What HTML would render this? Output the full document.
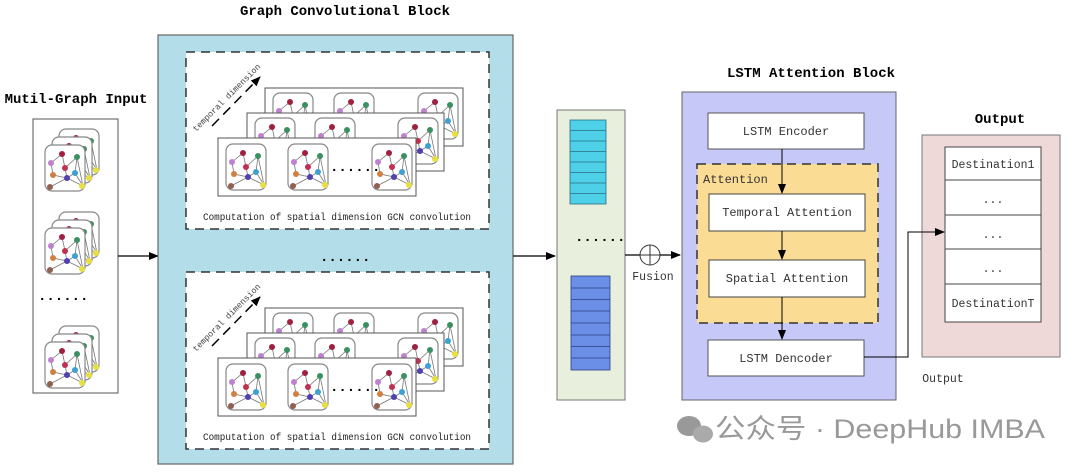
<!DOCTYPE html>
<html><head><meta charset="utf-8"><style>
body{margin:0;background:#fff;}
svg text{font-family:"Liberation Mono",monospace;}
</style></head><body>
<svg width="1080" height="469" viewBox="0 0 1080 469" xmlns="http://www.w3.org/2000/svg">
<defs>
<marker id="ar" markerWidth="10" markerHeight="8" refX="9" refY="4" orient="auto" markerUnits="userSpaceOnUse">
<path d="M0,0 L10,4 L0,8 z" fill="#000"/></marker>
<g id="gi">
<rect x="0" y="0" width="40" height="46" rx="7" fill="#fff" stroke="#888" stroke-width="1.2"/>
<g stroke="#777" stroke-width="0.8" fill="none">
<path d="M6,18 L17,9 L20,23 L32,12 L38,41 L22,33 L8,30 L6,18 M20,23 L22,33 L30,28 L38,41 M32,12 L30,28 M5,42 L22,33 M17,9 L20,23"/>
</g>
<circle cx="6" cy="18" r="3" fill="#c080d0"/>
<circle cx="17" cy="9" r="3" fill="#a02040"/>
<circle cx="20" cy="23" r="3" fill="#c03050"/>
<circle cx="32" cy="12" r="3" fill="#3a9060"/>
<circle cx="8" cy="30" r="3" fill="#d08040"/>
<circle cx="22" cy="33" r="3" fill="#5040b0"/>
<circle cx="30" cy="28" r="3" fill="#40a0d0"/>
<circle cx="5" cy="42" r="3" fill="#906050"/>
<circle cx="37" cy="41" r="3" fill="#e8e040"/>
</g>
<g id="stack">
<use href="#gi" x="14" y="-16"/>
<use href="#gi" x="7" y="-8"/>
<use href="#gi" x="0" y="0"/>
</g>
<g id="gcn">
<rect x="186" y="52" width="303" height="177" fill="#fff" stroke="#333" stroke-width="1.5" stroke-dasharray="9,6"/>
<rect x="265" y="88" width="198" height="58" fill="#fff" stroke="#555"/>
<use href="#gi" x="273" y="93"/><use href="#gi" x="334" y="93"/><use href="#gi" x="418" y="93"/>
<rect x="247" y="113" width="197" height="58" fill="#fff" stroke="#555"/>
<use href="#gi" x="255" y="118"/><use href="#gi" x="315" y="118"/><use href="#gi" x="398" y="118"/>
<rect x="218" y="138" width="198" height="58" fill="#fff" stroke="#555"/>
<use href="#gi" x="226" y="144"/><use href="#gi" x="288" y="144"/><use href="#gi" x="372" y="144"/>
<text x="330" y="171" font-size="14" font-weight="bold">......</text>
<line x1="212" y1="126" x2="260" y2="77" stroke="#000" stroke-width="1.5" stroke-dasharray="10,6" marker-end="url(#ar)"/>
<text x="0" y="0" font-size="8.5" fill="#444" transform="translate(196,132) rotate(-45)">temporal dimension</text>
<text x="337" y="220" font-size="10" text-anchor="middle" fill="#222" textLength="268" lengthAdjust="spacingAndGlyphs">Computation of spatial dimension GCN convolution</text>
</g>
</defs>

<text x="76" y="103" font-size="14" font-weight="bold" text-anchor="middle">Mutil-Graph Input</text>
<rect x="33" y="119" width="85" height="274" fill="#fff" stroke="#555"/>
<use href="#stack" x="45" y="145"/>
<use href="#stack" x="45" y="228"/>
<text x="38" y="300" font-size="14" font-weight="bold">......</text>
<use href="#stack" x="45" y="342"/>
<line x1="118" y1="256" x2="158" y2="256" stroke="#000" stroke-width="1.2" marker-end="url(#ar)"/>

<text x="345" y="15" font-size="14" font-weight="bold" text-anchor="middle">Graph Convolutional Block</text>
<rect x="158" y="35" width="355" height="429" fill="#b3dde8" stroke="#666" stroke-width="1.2"/>
<use href="#gcn"/>
<use href="#gcn" y="220"/>
<text x="320" y="261" font-size="14" font-weight="bold">......</text>
<line x1="513" y1="256" x2="555" y2="256" stroke="#000" stroke-width="1.2" marker-end="url(#ar)"/>

<rect x="557" y="110" width="68" height="290" fill="#e8efdc" stroke="#777"/>
<g fill="#4dd0e8" stroke="#2a6f80" stroke-width="0.8">
<rect x="570" y="120" width="36" height="84"/>
<line x1="570" y1="130.5" x2="606" y2="130.5"/><line x1="570" y1="141" x2="606" y2="141"/><line x1="570" y1="151.5" x2="606" y2="151.5"/><line x1="570" y1="162" x2="606" y2="162"/><line x1="570" y1="172.5" x2="606" y2="172.5"/><line x1="570" y1="183" x2="606" y2="183"/><line x1="570" y1="193.5" x2="606" y2="193.5"/>
</g>
<g fill="#6b8fe6" stroke="#2a3f80" stroke-width="0.8">
<rect x="571" y="276" width="39" height="94"/>
<line x1="571" y1="288" x2="610" y2="288"/><line x1="571" y1="299.5" x2="610" y2="299.5"/><line x1="571" y1="311" x2="610" y2="311"/><line x1="571" y1="323" x2="610" y2="323"/><line x1="571" y1="335" x2="610" y2="335"/><line x1="571" y1="346.5" x2="610" y2="346.5"/><line x1="571" y1="358" x2="610" y2="358"/>
</g>
<text x="575" y="241" font-size="14" font-weight="bold">......</text>
<line x1="625" y1="255" x2="680" y2="255" stroke="#000" stroke-width="1.2" marker-end="url(#ar)"/>
<circle cx="650" cy="255" r="10" fill="#fff" stroke="#333"/>
<line x1="640" y1="255" x2="660" y2="255" stroke="#333"/><line x1="650" y1="245" x2="650" y2="265" stroke="#333"/>
<text x="653" y="280" font-size="11.5" text-anchor="middle" fill="#333">Fusion</text>

<text x="811" y="77" font-size="14" font-weight="bold" text-anchor="middle">LSTM Attention Block</text>
<rect x="682" y="92" width="214" height="308" fill="#c6c8f8" stroke="#666"/>
<rect x="708" y="113" width="156" height="36" fill="#fff" stroke="#555"/>
<text x="786" y="135" font-size="12" text-anchor="middle" fill="#333">LSTM Encoder</text>
<rect x="697" y="164" width="181" height="159" fill="#fbdc94" stroke="#333" stroke-width="1.5" stroke-dasharray="9,6"/>
<text x="703" y="183" font-size="12" fill="#333">Attention</text>
<rect x="709" y="194" width="156" height="37" fill="#fff" stroke="#444"/>
<text x="787" y="216" font-size="12" text-anchor="middle" fill="#333">Temporal Attention</text>
<rect x="709" y="260" width="156" height="37" fill="#fff" stroke="#444"/>
<text x="787" y="282" font-size="12" text-anchor="middle" fill="#333">Spatial Attention</text>
<rect x="708" y="340" width="156" height="36" fill="#fff" stroke="#555"/>
<text x="786" y="362" font-size="12" text-anchor="middle" fill="#333">LSTM Dencoder</text>
<line x1="782" y1="149" x2="782" y2="193" stroke="#000" marker-end="url(#ar)"/>
<line x1="782" y1="231" x2="782" y2="259" stroke="#000" marker-end="url(#ar)"/>
<line x1="782" y1="297" x2="782" y2="339" stroke="#000" marker-end="url(#ar)"/>

<text x="1000" y="123" font-size="14" font-weight="bold" text-anchor="middle">Output</text>
<rect x="922" y="135" width="138" height="222" fill="#efd8d8" stroke="#777"/>
<rect x="945" y="147" width="96" height="175" fill="#fff" stroke="#444"/>
<g stroke="#444"><line x1="945" y1="180" x2="1041" y2="180"/><line x1="945" y1="215" x2="1041" y2="215"/><line x1="945" y1="249" x2="1041" y2="249"/><line x1="945" y1="284" x2="1041" y2="284"/></g>
<g font-size="11.5" text-anchor="middle" fill="#333">
<text x="993" y="168">Destination1</text>
<text x="993" y="203">...</text>
<text x="993" y="238">...</text>
<text x="993" y="272">...</text>
<text x="993" y="307">DestinationT</text>
</g>
<polyline points="864,357 908,357 908,232 944,232" fill="none" stroke="#000" marker-end="url(#ar)"/>
<text x="943" y="382" font-size="11.5" text-anchor="middle" fill="#333">Output</text>

<g fill="#999">
<ellipse cx="689" cy="426" rx="12" ry="10"/><ellipse cx="703" cy="434" rx="10" ry="8.5" fill="#aaa"/>
</g>
<text x="715" y="438" font-size="27" fill="#999" textLength="330" lengthAdjust="spacingAndGlyphs" style='font-family:"Liberation Sans","Noto Sans CJK SC",sans-serif'>公众号 · DeepHub IMBA</text>
</svg>
</body></html>
